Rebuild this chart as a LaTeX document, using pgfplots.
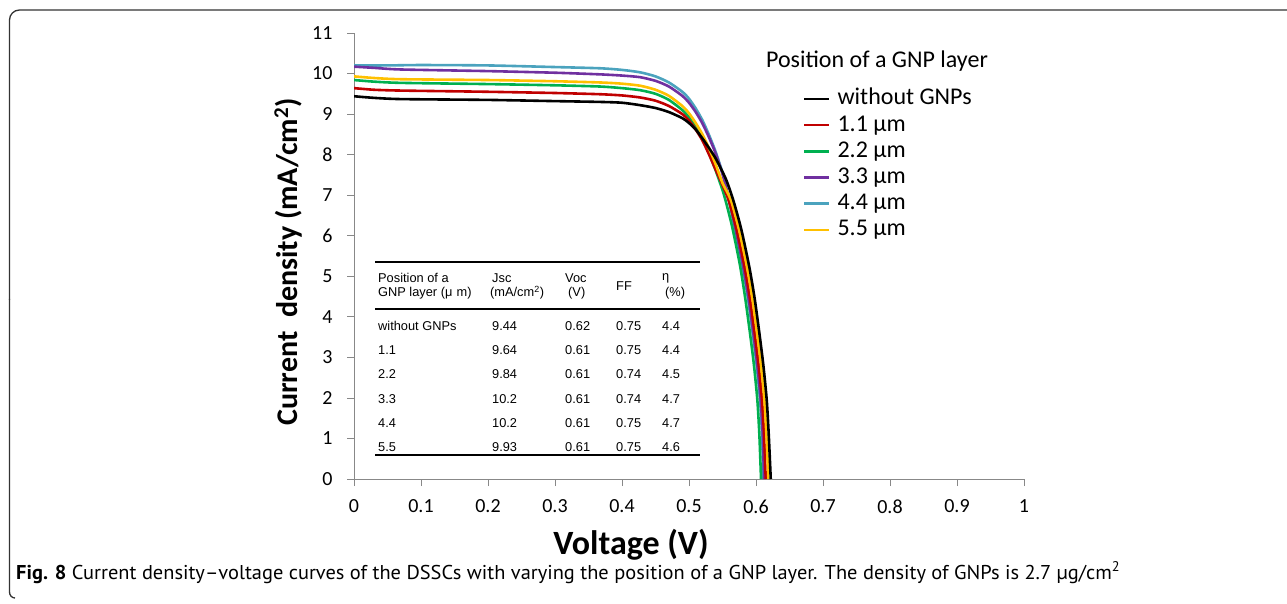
\documentclass[border=0pt]{standalone}
\usepackage{pgfplots}
\pgfplotsset{compat=1.18}
\usepackage{fontspec}
\usepackage{graphicx}
\setmainfont{Carlito}
\newfontfamily\tabfont{Liberation Sans}
\newfontfamily\capfont{PT Sans}
\definecolor{cred}{HTML}{C00000}
\definecolor{cgreen}{HTML}{00B050}
\definecolor{cpurple}{HTML}{7030A0}
\definecolor{cblue}{HTML}{4BA3BE}
\definecolor{cyellow}{HTML}{FFC000}
\definecolor{axgray}{HTML}{888888}
\definecolor{framegray}{HTML}{333333}
\begin{document}
\begin{tikzpicture}
\useasboundingbox (0,0) rectangle (1287pt,603pt);
\begin{axis}[
  at={(354pt,124pt)}, anchor=south west,
  scale only axis, width=670pt, height=446pt,
  xmin=0, xmax=1, ymin=0, ymax=11,
  axis x line*=bottom, axis y line*=left,
  axis line style={draw=axgray, line width=1pt, -},
  xtick={0,0.1,...,1.0001}, ytick={0,1,...,11},
  xticklabels={0,0.1,0.2,0.3,0.4,0.5,0.6,0.7,0.8,0.9,1},
  tick align=outside, major tick length=7pt,
  tick style={draw=axgray, line width=0.8pt},
  /pgf/number format/assume math mode=true,
  ticklabel style={font=\fontsize{20}{24}\selectfont, text=black},
  yticklabel style={xshift=-11pt},
  xticklabel style={yshift=-10pt},
  legend style={at={(0.6701,0.8767)}, anchor=north west, draw=none, fill=none,
    inner sep=0pt, outer sep=0pt, row sep=4.2pt,
    font=\fontsize{24}{26}\selectfont,
    nodes={inner sep=0pt, text height=17pt, text depth=5pt},
    /tikz/every odd column/.append style={column sep=7pt}},
  legend cell align=left,
  legend image code/.code={\draw[#1, line width=2.6pt] (0pt,0pt) -- (25pt,0pt);},
]
% 4.4 um
\addplot[cblue, smooth, tension=0.4, line width=2.6pt, forget plot] coordinates {
(0,10.20) (0.05,10.20) (0.1,10.21) (0.2,10.20) (0.3,10.16) (0.367,10.13) (0.4,10.09) (0.427,10.03)
(0.45,9.93) (0.47,9.78) (0.49,9.55) (0.50,9.38) (0.51,9.14) (0.52,8.85) (0.53,8.48) (0.54,8.06)
(0.55,7.55) (0.5585,6.95) (0.568,6.20) (0.580,5.23) (0.588,4.45) (0.595,3.6) (0.601,2.8)
(0.606,1.95) (0.609,1.1) (0.611,0)};
% 3.3 um
\addplot[cpurple, smooth, tension=0.4, line width=2.6pt, forget plot] coordinates {
(0,10.17) (0.03,10.14) (0.07,10.10) (0.2,10.06) (0.3,10.02) (0.367,9.98) (0.4,9.95) (0.427,9.91)
(0.45,9.82) (0.47,9.68) (0.49,9.45) (0.50,9.28) (0.51,9.05) (0.52,8.77) (0.53,8.42) (0.54,8.02)
(0.55,7.52) (0.559,6.95) (0.569,6.20) (0.581,5.23) (0.589,4.45) (0.596,3.6) (0.602,2.8)
(0.607,1.95) (0.610,1.1) (0.612,0)};
% 2.2 um
\addplot[cgreen, smooth, tension=0.4, line width=2.6pt, forget plot] coordinates {
(0,9.84) (0.03,9.80) (0.07,9.77) (0.2,9.74) (0.3,9.71) (0.367,9.68) (0.4,9.64) (0.427,9.59)
(0.45,9.50) (0.47,9.35) (0.49,9.10) (0.50,8.92) (0.51,8.68) (0.52,8.38) (0.53,8.02) (0.54,7.60)
(0.552,7.02) (0.564,6.25) (0.576,5.28) (0.584,4.45) (0.591,3.6) (0.597,2.8) (0.602,1.95)
(0.605,1.1) (0.6075,0)};
% 1.1 um
\addplot[cred, smooth, tension=0.4, line width=2.6pt, forget plot] coordinates {
(0,9.64) (0.03,9.60) (0.07,9.58) (0.2,9.55) (0.3,9.52) (0.367,9.49) (0.4,9.46) (0.427,9.41)
(0.45,9.33) (0.47,9.20) (0.49,9.00) (0.50,8.84) (0.51,8.62) (0.52,8.35) (0.53,8.00) (0.54,7.62)
(0.55,7.25) (0.559,6.88) (0.571,6.16) (0.583,5.23) (0.591,4.45) (0.598,3.6) (0.604,2.8) (0.609,1.95)
(0.612,1.1) (0.6145,0)};
% 5.5 um
\addplot[cyellow, smooth, tension=0.4, line width=2.6pt, forget plot] coordinates {
(0,9.93) (0.03,9.89) (0.07,9.86) (0.2,9.84) (0.3,9.81) (0.367,9.78) (0.4,9.75) (0.427,9.70)
(0.45,9.60) (0.47,9.45) (0.49,9.20) (0.50,9.02) (0.51,8.78) (0.52,8.50) (0.53,8.15) (0.54,7.75)
(0.55,7.30) (0.5625,6.88) (0.5745,6.16) (0.5865,5.23) (0.5945,4.45) (0.6015,3.6) (0.6075,2.8)
(0.6125,1.95) (0.6155,1.1) (0.6185,0)};
% without GNPs
\addplot[black, smooth, tension=0.4, line width=2.6pt, forget plot] coordinates {
(0,9.44) (0.03,9.40) (0.07,9.37) (0.2,9.35) (0.3,9.32) (0.367,9.30) (0.4,9.28) (0.427,9.22)
(0.45,9.15) (0.47,9.05) (0.49,8.90) (0.50,8.78) (0.51,8.62) (0.52,8.40) (0.53,8.16) (0.54,7.90)
(0.555,7.40) (0.566,6.88) (0.578,6.16) (0.59,5.23) (0.598,4.45) (0.605,3.6) (0.611,2.8)
(0.616,1.95) (0.619,1.1) (0.622,0)};
\addlegendimage{black}\addlegendentry{without GNPs}
\addlegendimage{cred}\addlegendentry{1.1 μm}
\addlegendimage{cgreen}\addlegendentry{2.2 μm}
\addlegendimage{cpurple}\addlegendentry{3.3 μm}
\addlegendimage{cblue}\addlegendentry{4.4 μm}
\addlegendimage{cyellow}\addlegendentry{5.5 μm}
\end{axis}
\begin{scope}[x=1pt, y=-1pt, shift={(0pt,603pt)}]
  % frame
  \draw[framegray, line width=1.3pt, rounded corners=10pt] (1290,10) -- (9.5,10) -- (9.5,300);
  \draw[framegray, line width=1.3pt] (9.5,299) -- (9.5,592) to[out=-90,in=180] (15,598);
  % axis titles
  \node[font=\bfseries\fontsize{30}{34}\selectfont, rotate=90] at (288,262) {Current\ \ density (mA/cm\textsuperscript{2})};
  \node[font=\bfseries\fontsize{34}{38}\selectfont] at (631,545) {Voltage (V)};
  % legend title
  \node[font=\fontsize{24}{26}\selectfont] at (877,61) {Position of a GNP layer};
  % table
  \draw[line width=1.3pt] (375,262) -- (700,262);
  \draw[line width=1.3pt] (375,309) -- (700,309);
  \draw[line width=1.3pt] (375,455) -- (700,455);
  \begin{scope}[every node/.style={font=\tabfont\fontsize{12.8}{14}\selectfont, anchor=base west, inner sep=0pt}]
    \node at (378,283) {Position of a};
    \node at (378,297) {GNP layer (μ\,\,m)};
    \node at (492,283) {Jsc};
    \node at (490,297) {(mA/cm\textsuperscript{2})};
    \node at (565,283) {Voc};
    \node at (568,297) {(V)};
    \node at (616,291) {FF};
    \node at (662,281) {η};
    \node at (665,297) {(\%)};
    \foreach \y/\a/\b/\c/\d/\e in {330.2/without GNPs/9.44/0.62/0.75/4.4, 354.5/1.1/9.64/0.61/0.75/4.4, 378.8/2.2/9.84/0.61/0.74/4.5, 403/3.3/10.2/0.61/0.74/4.7, 427.2/4.4/10.2/0.61/0.75/4.7, 451.5/5.5/9.93/0.61/0.75/4.6}{
      \node at (378,\y) {\a};
      \node at (492,\y) {\b};
      \node at (565,\y) {\c};
      \node at (616,\y) {\d};
      \node at (662,\y) {\e};
    }
  \end{scope}
  % caption
  \node[anchor=base west, inner sep=0pt] at (16,579) {\resizebox{1104pt}{\height}{\capfont\fontsize{20}{22}\selectfont\textbf{Fig. 8} Current density–voltage curves of the DSSCs with varying the position of a GNP layer. The density of GNPs is 2.7 µg/cm\textsuperscript{2}}};
\end{scope}
\end{tikzpicture}
\end{document}
